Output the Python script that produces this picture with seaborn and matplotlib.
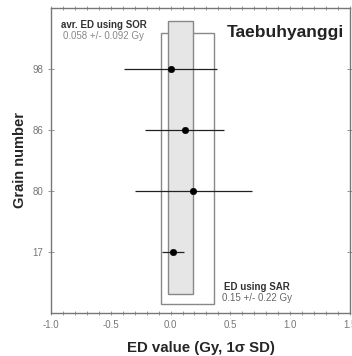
import matplotlib
matplotlib.use("Agg")
import matplotlib.pyplot as plt
import matplotlib.patches as mpatches
from matplotlib.ticker import MultipleLocator
import seaborn as sns
import pandas as pd

grains = ["17", "80", "86", "98"]
ed_values = [0.02, 0.19, 0.12, 0.0]
ed_errors = [0.09, 0.49, 0.33, 0.39]
x_ticks = [-1.0, -0.5, 0.0, 0.5, 1.0, 1.5]
x_tick_labels = ["-1.0", "-0.5", "0.0", "0.5", "1.0", "1.5"]

sor_box_x = [-0.025, 0.19]
sor_box_y = [0.31, 4.79]
sar_box_x = [-0.08, 0.36]
sar_box_y = [0.15, 4.59]

sns.set_style("ticks")
plt.rcParams['font.family'] = ['Liberation Sans', 'DejaVu Sans']

df = pd.DataFrame({"grain": grains, "ed": ed_values, "err": ed_errors})
df["pos"] = range(1, len(grains) + 1)

fig = plt.figure(figsize=(3.52, 3.56), dpi=100)
ax = fig.add_axes([0.145, 0.121, 0.849, 0.857])

ax.add_patch(mpatches.Rectangle((sar_box_x[0], sar_box_y[0]), sar_box_x[1] - sar_box_x[0],
                                sar_box_y[1] - sar_box_y[0], facecolor="none",
                                edgecolor="#888888", lw=1.0, zorder=1))
ax.add_patch(mpatches.Rectangle((sor_box_x[0], sor_box_y[0]), sor_box_x[1] - sor_box_x[0],
                                sor_box_y[1] - sor_box_y[0], facecolor="#e6e6e6",
                                edgecolor="#888888", lw=1.0, zorder=1))

ax.errorbar(df["ed"], df["pos"], xerr=df["err"], fmt="none", ecolor="#222222",
            elinewidth=0.9, capsize=0, zorder=2)
sns.scatterplot(data=df, x="ed", y="pos", color="black", s=22, edgecolor="black",
                zorder=3, ax=ax, legend=False)

ax.set_xlim(-1.0, 1.5)
ax.set_ylim(0, 5)
ax.set_yticks(df["pos"], grains)
ax.set_xticks(x_ticks, x_tick_labels)
ax.xaxis.set_minor_locator(MultipleLocator(0.1))
ax.tick_params(axis="x", which="both", direction="inout", top=True, colors="#888888",
               labelcolor="#777777", labelsize=7, length=3, width=0.6)
ax.tick_params(axis="y", which="both", direction="inout", right=True, colors="#888888",
               labelcolor="#777777", labelsize=7, length=4, width=0.6)
for s in ax.spines.values():
    s.set_color("#777777")
    s.set_linewidth(1.0)

ax.set_xlabel("ED value (Gy, 1σ SD)", fontsize=10.8, fontweight="bold", labelpad=8)
ax.set_ylabel("Grain number", fontsize=10.5, fontweight="bold", labelpad=4)

ax.text(-0.92, 4.72, "avr. ED using SOR", fontsize=7, fontweight="bold", color="#333333",
        va="center")
ax.text(-0.90, 4.54, "0.058 +/- 0.092 Gy", fontsize=7, color="#888888", va="center")
ax.text(1.45, 4.6, "Taebuhyanggi", fontsize=12.5, fontweight="bold", color="#222222",
        ha="right", va="center")
ax.text(0.725, 0.43, "ED using SAR", fontsize=7, fontweight="bold", color="#333333",
        ha="center", va="center")
ax.text(0.725, 0.25, "0.15 +/- 0.22 Gy", fontsize=7, color="#666666", ha="center",
        va="center")

fig.savefig("out.png", dpi=100)
